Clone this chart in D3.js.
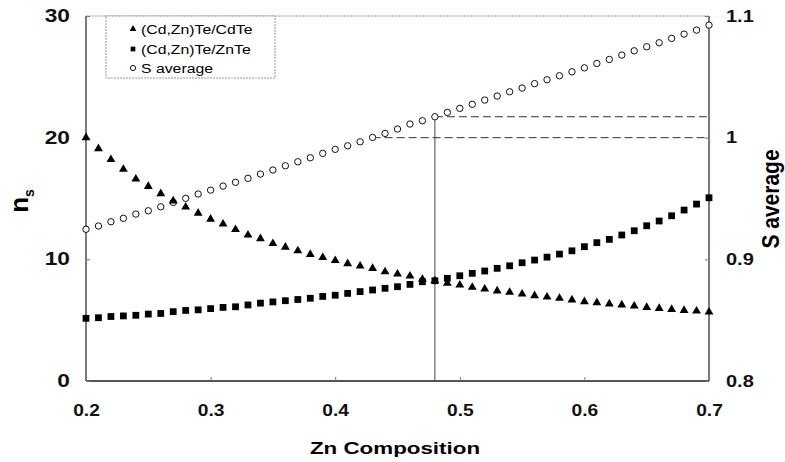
<html>
<head>
<meta charset="utf-8">
<title>ns vs Zn composition</title>
<style>
  body { margin: 0; background: #fff; }
  text { font-family: Arial, "Liberation Sans", sans-serif; }
  .axis path { display: none; }
  .axis line { stroke: #777; }
  .axis text { font-weight: bold; fill: #111; }
</style>
</head>
<body>
<svg width="785" height="462"></svg>
<script src="https://d3js.org/d3.v7.min.js"></script>
<script>
// Zn composition (x)
var zn = [0.20, 0.21, 0.22, 0.23, 0.24, 0.25, 0.26, 0.27, 0.28, 0.29,
          0.30, 0.31, 0.32, 0.33, 0.34, 0.35, 0.36, 0.37, 0.38, 0.39,
          0.40, 0.41, 0.42, 0.43, 0.44, 0.45, 0.46, 0.47, 0.48, 0.49,
          0.50, 0.51, 0.52, 0.53, 0.54, 0.55, 0.56, 0.57, 0.58, 0.59,
          0.60, 0.61, 0.62, 0.63, 0.64, 0.65, 0.66, 0.67, 0.68, 0.69, 0.70];

// ns for (Cd,Zn)Te/CdTe
var nsCdTe = [20.0, 19.1, 18.2, 17.4, 16.6, 16.0, 15.4, 14.8, 14.3, 13.8,
              13.3, 12.9, 12.45, 12.0, 11.7, 11.3, 11.0, 10.7, 10.4, 10.15,
              9.9, 9.65, 9.45, 9.26, 8.98, 8.79, 8.63, 8.36, 8.24, 8.03,
              7.89, 7.70, 7.56, 7.40, 7.29, 7.15, 7.01, 6.90, 6.80, 6.66,
              6.52, 6.44, 6.33, 6.25, 6.16, 6.05, 5.97, 5.89, 5.80, 5.75, 5.67];

// ns for (Cd,Zn)Te/ZnTe
var nsZnTe = [5.15, 5.2, 5.3, 5.35, 5.4, 5.5, 5.55, 5.7, 5.8, 5.85,
              5.95, 6.05, 6.1, 6.25, 6.4, 6.5, 6.6, 6.7, 6.8, 6.95,
              7.05, 7.2, 7.35, 7.48, 7.62, 7.75, 7.94, 8.16, 8.24, 8.44,
              8.65, 8.85, 9.04, 9.26, 9.47, 9.72, 9.94, 10.18, 10.43, 10.7,
              11.04, 11.37, 11.64, 12.0, 12.35, 12.76, 13.15, 13.58, 14.05, 14.54, 15.06];

// S average (right axis)
var sAvg = [0.9247, 0.9274, 0.9309, 0.9337, 0.9372, 0.9399, 0.9432, 0.9468, 0.9501, 0.9537,
            0.9569, 0.9602, 0.9633, 0.9666, 0.9701, 0.9734, 0.9769, 0.9802, 0.9835, 0.9871,
            0.9904, 0.9933, 0.9966, 1.0002, 1.0035, 1.0071, 1.0112, 1.0139, 1.0172, 1.0208,
            1.0241, 1.0274, 1.0309, 1.0342, 1.0377, 1.0408, 1.0444, 1.0476, 1.0509, 1.0541,
            1.0574, 1.0610, 1.0643, 1.0679, 1.0714, 1.0747, 1.0780, 1.0816, 1.0851, 1.0884, 1.0925];

var xTicks = [0.2, 0.3, 0.4, 0.5, 0.6, 0.7];
var nsTicks = [0, 10, 20, 30];
var sTicks = [0.8, 0.9, 1.0, 1.1];

// guide lines: S = 1 from the crossing, S at x = 0.48
var sOne = 1.0, xOne = 0.43;
var xMark = 0.48, sMark = 1.0172;

var legendLabels = ["(Cd,Zn)Te/CdTe", "(Cd,Zn)Te/ZnTe", "S average"];

var svg = d3.select("svg");
var pLeft = 86, pRight = 709, pTop = 16, pBottom = 381;

var x = d3.scaleLinear().domain([0.2, 0.7]).range([pLeft, pRight]);
var yL = d3.scaleLinear().domain([0, 30]).range([pBottom, pTop]);
var yR = d3.scaleLinear().domain([0.8, 1.1]).range([pBottom, pTop]);

// the scanned figure is wider than it is tall: widen text around its anchor
function widen(sel, sx) {
    sel.each(function () {
        var t = d3.select(this);
        var tx = +t.attr("x") || 0;
        t.attr("x", 0).attr("transform", "translate(" + tx + ",0) scale(" + sx + ",1)");
    });
}

// frame
svg.append("line").attr("x1", pLeft).attr("x2", pRight).attr("y1", pTop).attr("y2", pTop)
    .attr("stroke", "#999").attr("stroke-dasharray", "2,1");
svg.append("line").attr("x1", pRight).attr("x2", pRight).attr("y1", pTop).attr("y2", pBottom)
    .attr("stroke", "#222").attr("stroke-width", 1.2);
svg.append("line").attr("x1", pLeft).attr("x2", pLeft).attr("y1", pTop).attr("y2", pBottom)
    .attr("stroke", "#222").attr("stroke-width", 1.2);
svg.append("line").attr("x1", pLeft).attr("x2", pRight).attr("y1", pBottom).attr("y2", pBottom)
    .attr("stroke", "#555").attr("stroke-width", 2);

// axes
var gl = svg.append("g").attr("class", "axis")
    .attr("transform", "translate(" + pLeft + ",0)")
    .call(d3.axisLeft(yL).tickValues(nsTicks).tickSize(-4).tickPadding(16).tickFormat(d3.format("d")));
gl.selectAll("text").style("font-size", "17.5px").call(widen, 1.3);

var gr = svg.append("g").attr("class", "axis")
    .attr("transform", "translate(" + pRight + ",0)")
    .call(d3.axisRight(yR).tickValues(sTicks).tickSize(-4).tickPadding(17)
        .tickFormat(function (d) { return String(+d.toFixed(1)); }));
gr.selectAll("text").style("font-size", "16px").call(widen, 1.25);

var gb = svg.append("g").attr("class", "axis")
    .attr("transform", "translate(0," + pBottom + ")")
    .call(d3.axisBottom(x).tickValues(xTicks).tickSize(-4).tickPadding(24).tickFormat(d3.format(".1f")));
gb.selectAll("text").style("font-size", "16px").call(widen, 1.2);

// axis titles
var nsTitle = svg.append("text")
    .attr("transform", "translate(28,201) rotate(-90)")
    .attr("text-anchor", "middle")
    .style("font-size", "26px").style("font-weight", "bold");
nsTitle.append("tspan").text("n");
nsTitle.append("tspan").attr("dy", 6).style("font-size", "14px").text("s");

svg.append("text")
    .attr("transform", "translate(779,199) scale(1.1,1) rotate(-90)")
    .attr("text-anchor", "middle")
    .style("font-size", "21px").style("font-weight", "bold")
    .text("S average");

svg.append("text")
    .attr("transform", "translate(395,454) scale(1.3,1)")
    .attr("text-anchor", "middle")
    .style("font-size", "17.2px").style("font-weight", "bold")
    .text("Zn Composition");

// guide lines
svg.append("line")
    .attr("x1", x(xOne)).attr("x2", x(0.7)).attr("y1", yR(sOne)).attr("y2", yR(sOne))
    .attr("stroke", "#333").attr("stroke-dasharray", "8,4");
svg.append("line")
    .attr("x1", x(xMark)).attr("x2", x(0.7)).attr("y1", yR(sMark)).attr("y2", yR(sMark))
    .attr("stroke", "#333").attr("stroke-dasharray", "8,4");
svg.append("line")
    .attr("x1", x(xMark)).attr("x2", x(xMark)).attr("y1", yR(sMark)).attr("y2", pBottom)
    .attr("stroke", "#444").attr("stroke-width", 1);

// series
var tri = d3.symbol().type(d3.symbolTriangle).size(34);
var sq = d3.symbol().type(d3.symbolSquare).size(46);

svg.append("g").selectAll("circle")
    .data(zn).enter().append("circle")
    .attr("cx", function (d) { return x(d); })
    .attr("cy", function (d, i) { return yR(sAvg[i]); })
    .attr("r", 3.2)
    .attr("fill", "#fff").attr("stroke", "#111").attr("stroke-width", 1);

svg.append("g").selectAll("path")
    .data(zn).enter().append("path")
    .attr("d", sq)
    .attr("transform", function (d, i) { return "translate(" + x(d) + "," + yL(nsZnTe[i]) + ")"; })
    .attr("fill", "#000");

svg.append("g").selectAll("path")
    .data(zn).enter().append("path")
    .attr("d", tri)
    .attr("transform", function (d, i) { return "translate(" + x(d) + "," + yL(nsCdTe[i]) + ")"; })
    .attr("fill", "#000");

// legend
var legend = svg.append("g");
legend.append("rect")
    .attr("x", 106).attr("y", 16).attr("width", 169).attr("height", 62)
    .attr("fill", "#fff").attr("stroke", "#999").attr("stroke-dasharray", "2,1");

var rowY = [29, 49, 68];
legend.append("path").attr("d", d3.symbol().type(d3.symbolTriangle).size(20))
    .attr("transform", "translate(133," + rowY[0] + ")").attr("fill", "#000");
legend.append("path").attr("d", d3.symbol().type(d3.symbolSquare).size(22))
    .attr("transform", "translate(133," + rowY[1] + ")").attr("fill", "#000");
legend.append("circle").attr("cx", 133).attr("cy", rowY[2]).attr("r", 2.6)
    .attr("fill", "#fff").attr("stroke", "#111");

legend.selectAll("text.lbl")
    .data(legendLabels).enter().append("text")
    .attr("class", "lbl")
    .attr("x", 141)
    .attr("y", function (d, i) { return rowY[i]; })
    .attr("dy", "0.35em")
    .style("font-size", "13.5px")
    .text(function (d) { return d; })
    .call(widen, 1.17);
</script>
</body>
</html>
